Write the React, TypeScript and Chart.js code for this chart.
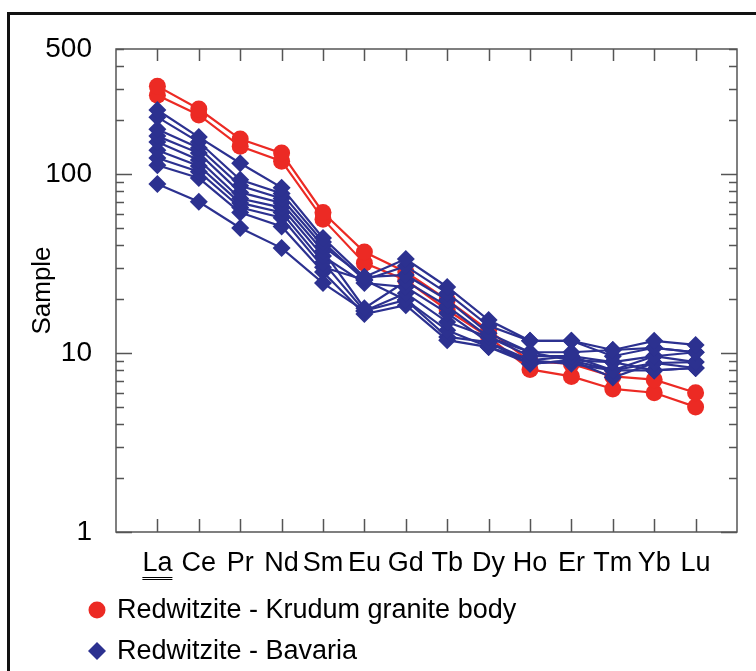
import React, { useEffect, useRef } from 'react';
import { Chart, registerables } from 'chart.js';

Chart.register(...registerables);

const elements = ['La', 'Ce', 'Pr', 'Nd', 'Sm', 'Eu', 'Gd', 'Tb', 'Dy', 'Ho', 'Er', 'Tm', 'Yb', 'Lu'];

// Redwitzite - Krudum granite body
const krudumA = [310, 231, 157, 131, 61, 36.7, 28.4, 19.8, 13.4, 9.0, 8.7, 7.4, 7.1, 6.0];
const krudumB = [276, 214, 143, 118, 56, 31.8, 25.6, 17.4, 12.3, 8.1, 7.4, 6.3, 6.0, 5.0];

// Redwitzite - Bavaria
const bavaria1 = [228, 161, 115, 84, 44, 26.6, 33.5, 23.4, 15.3, 11.7, 11.7, 10.4, 11.7, 11.1];
const bavaria2 = [208, 151, 93, 78, 41.7, 25.6, 30.6, 21.6, 14.2, 11.7, 11.7, 9.6, 10.7, 10.1];
const bavaria3 = [178, 140, 86, 73, 39.6, 26.6, 27.3, 19.8, 12.9, 10.1, 10.1, 10.4, 10.7, 10.1];
const bavaria4 = [163, 131, 79, 69, 37.2, 17.8, 25.2, 18.3, 12.3, 9.6, 9.6, 8.9, 9.6, 8.9];
const bavaria5 = [151, 120, 73, 65, 34.8, 24.6, 23.4, 16.7, 11.5, 9.1, 9.6, 8.0, 9.6, 10.1];
const bavaria6 = [136, 111, 69, 61, 32.2, 17.2, 21.6, 14.9, 12.3, 10.1, 9.1, 7.3, 8.8, 8.25];
const bavaria7 = [123, 103, 65, 57, 30.2, 25.6, 19.8, 13.4, 10.8, 8.7, 9.1, 8.9, 8.0, 8.25];
const bavaria8 = [112, 95, 61, 51, 28.4, 16.5, 18.5, 11.8, 10.8, 9.1, 8.7, 8.0, 8.8, 8.9];
const bavaria9 = [88, 70, 50, 38.6, 24.6, 17.2, 19.8, 12.3, 11.5, 8.7, 9.1, 8.0, 8.0, 8.25];

const krudumSeries = [krudumA, krudumB];
const bavariaSeries = [bavaria1, bavaria2, bavaria3, bavaria4, bavaria5, bavaria6, bavaria7, bavaria8, bavaria9];

const yTickValues = [1, 10, 100, 500];
const legendLabels = ['Redwitzite - Krudum granite body', 'Redwitzite - Bavaria'];

const RED = '#ec2a24';
const BLUE = '#2c3190';
const FONT = "'Liberation Sans', Arial, Helvetica, sans-serif";
const AXIS_COLOR = '#555555';
const X_FONT_SIZE = 27;

const toPoints = (arr: number[]) => arr.map((v, i) => ({ x: i + 1, y: v }));

const framePlugin = {
  id: 'frameTicks',
  beforeDatasetsDraw(chart: any) {
    const { ctx, chartArea: a, scales } = chart;
    const xs = scales.x;
    const ys = scales.y;
    ctx.save();
    ctx.strokeStyle = AXIS_COLOR;
    ctx.lineWidth = 1.5;
    ctx.strokeRect(a.left, a.top, a.right - a.left, a.bottom - a.top);
    ctx.beginPath();
    for (let i = 1; i <= elements.length; i++) {
      const px = Math.round(xs.getPixelForValue(i)) + 0.5;
      ctx.moveTo(px, a.bottom);
      ctx.lineTo(px, a.bottom - 13);
      ctx.moveTo(px, a.top);
      ctx.lineTo(px, a.top + 12);
    }
    for (let d = 1; d <= 100; d *= 10) {
      for (let m = 1; m <= 9; m++) {
        const v = d * m;
        if (v > 500) break;
        const py = Math.round(ys.getPixelForValue(v)) + 0.5;
        const len = m === 1 ? 16 : 8;
        ctx.moveTo(a.left, py);
        ctx.lineTo(a.left + len, py);
        ctx.moveTo(a.right, py);
        ctx.lineTo(a.right - len, py);
      }
    }
    ctx.stroke();
    ctx.restore();
  },
  afterDraw(chart: any) {
    const { ctx, chartArea: a, scales } = chart;
    const xs = scales.x;
    ctx.save();
    // underline under first element label
    ctx.font = `${X_FONT_SIZE}px ${FONT}`;
    const w = ctx.measureText(elements[0]).width;
    const cx = xs.getPixelForValue(1);
    ctx.strokeStyle = '#000';
    ctx.lineWidth = 1;
    ctx.beginPath();
    const uy = a.bottom + 45.5;
    ctx.moveTo(cx - w / 2, uy);
    ctx.lineTo(cx + w / 2, uy);
    ctx.moveTo(cx - w / 2, uy + 2);
    ctx.lineTo(cx + w / 2, uy + 2);
    ctx.stroke();

    // legend
    const rows = [610, 651];
    ctx.font = `27px ${FONT}`;
    ctx.textBaseline = 'middle';
    ctx.textAlign = 'left';
    legendLabels.forEach((label, i) => {
      const y = rows[i];
      const mx = 97;
      ctx.beginPath();
      if (i === 0) {
        ctx.fillStyle = RED;
        ctx.arc(mx, y, 8.5, 0, Math.PI * 2);
      } else {
        ctx.fillStyle = BLUE;
        ctx.moveTo(mx, y - 9);
        ctx.lineTo(mx + 9, y);
        ctx.lineTo(mx, y + 9);
        ctx.lineTo(mx - 9, y);
        ctx.closePath();
      }
      ctx.fill();
      ctx.fillStyle = '#000';
      ctx.fillText(label, 117, y + 1);
    });
    ctx.restore();
  },
};

export default function App() {
  const ref = useRef<HTMLCanvasElement | null>(null);

  useEffect(() => {
    if (!ref.current) return;
    const datasets: any[] = [];
    bavariaSeries.forEach((s) => {
      datasets.push({
        label: legendLabels[1],
        data: toPoints(s),
        borderColor: BLUE,
        backgroundColor: BLUE,
        borderWidth: 2.2,
        pointStyle: 'rectRot',
        pointRadius: 9,
        pointBorderWidth: 0,
      });
    });
    krudumSeries.forEach((s) => {
      datasets.push({
        label: legendLabels[0],
        data: toPoints(s),
        borderColor: RED,
        backgroundColor: RED,
        borderWidth: 2.2,
        pointStyle: 'circle',
        pointRadius: 8.5,
        pointBorderWidth: 0,
      });
    });

    const chart = new Chart(ref.current, {
      type: 'line',
      data: { datasets },
      options: {
        responsive: false,
        animation: false,
        layout: { padding: { top: 49, right: 19, left: 0, bottom: 0 } },
        plugins: { legend: { display: false }, tooltip: { enabled: false } },
        scales: {
          x: {
            type: 'linear',
            min: 0,
            max: 15,
            position: 'bottom',
            afterBuildTicks: (s: any) => {
              s.ticks = elements.map((_, i) => ({ value: i + 1 }));
            },
            afterFit: (s: any) => {
              s.height = 671 - 532;
            },
            ticks: {
              autoSkip: false,
              maxRotation: 0,
              minRotation: 0,
              padding: 15,
              color: '#000',
              font: { family: FONT, size: X_FONT_SIZE },
              callback: (v: any) => elements[Number(v) - 1] ?? '',
            },
            grid: { display: false, drawTicks: false },
            border: { display: false },
          },
          y: {
            type: 'logarithmic',
            min: 1,
            max: 500,
            position: 'left',
            afterBuildTicks: (s: any) => {
              s.ticks = yTickValues.map((v) => ({ value: v }));
            },
            afterFit: (s: any) => {
              s.width = 116;
            },
            ticks: {
              padding: 24,
              color: '#000',
              font: { family: FONT, size: 28 },
              callback: (v: any) => String(v),
            },
            title: {
              display: true,
              text: 'Sample',
              color: '#000',
              font: { family: FONT, size: 26 },
              padding: { top: 27, bottom: 0 },
            },
            grid: { display: false, drawTicks: false },
            border: { display: false },
          },
        },
      },
      plugins: [framePlugin],
    } as any);
    return () => chart.destroy();
  }, []);

  return (
    <div style={{ position: 'fixed', left: 0, top: 0, width: 756, height: 671, overflow: 'hidden', background: '#fff' }}>
      <div
        style={{
          position: 'absolute',
          left: 7,
          top: 12,
          width: 800,
          height: 800,
          borderTop: '3px solid #111',
          borderLeft: '3px solid #111',
        }}
      />
      <canvas ref={ref} width={756} height={671} style={{ position: 'absolute', left: 0, top: 0 }} />
    </div>
  );
}
